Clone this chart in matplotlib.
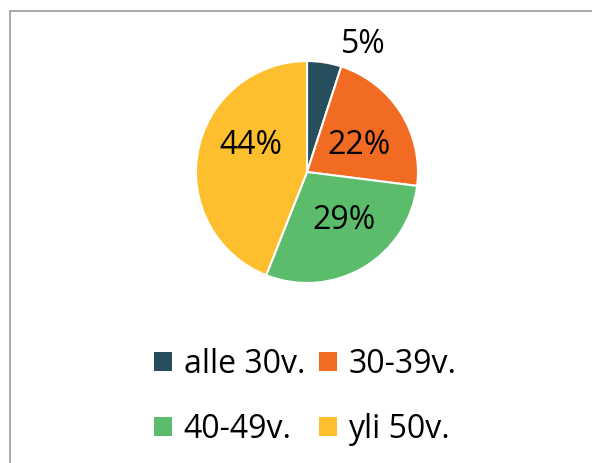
import matplotlib
matplotlib.use("Agg")
import matplotlib.pyplot as plt
from matplotlib.patches import Rectangle, Patch

labels = ["alle 30v.", "30-39v.", "40-49v.", "yli 50v."]
values = [5, 22, 29, 44]
colors = ["#264E5C", "#F26B22", "#5BBD6B", "#FDBF2D"]
pct_texts = ["5%", "22%", "29%", "44%"]

plt.rcParams['font.family'] = ['Open Sans', 'DejaVu Sans']

W, H = 592, 463
fig = plt.figure(figsize=(W / 100, H / 100), dpi=100)

# border
fig.patches.append(Rectangle((10 / W, -0.1), 2, (H - 11) / H + 0.1,
                             transform=fig.transFigure, fill=False,
                             edgecolor="#9A9A9A", linewidth=1.2))

cx, cy, R = 307, 172, 111
ax = fig.add_axes([(cx - R) / W, (H - cy - R) / H, 2 * R / W, 2 * R / H])
wedges, _ = ax.pie(values, colors=colors, startangle=90, counterclock=False,
                   radius=1, wedgeprops=dict(edgecolor="white", linewidth=1.5))
ax.set_xlim(-1, 1)
ax.set_ylim(-1, 1)
ax.axis("off")

# label positions (in units of radius)
label_pos = [(0.51, 1.15), (0.47, 0.24), (0.33, -0.44), (-0.51, 0.24)]
for t, (x, y) in zip(pct_texts, label_pos):
    ax.text(x, y, t, ha="center", va="center", fontsize=23, color="black",
            clip_on=False)

# legend filled row-wise: reorder for matplotlib's column-wise filling
order = [0, 2, 1, 3]
handles = [Patch(facecolor=colors[i], edgecolor="none") for i in order]
fig.legend(handles, [labels[i] for i in order], loc="center",
           bbox_to_anchor=(305.5 / W, 0.143),
           ncol=2, frameon=False, fontsize=23, handlelength=0.56,
           handleheight=0.56, handletextpad=0.35, columnspacing=0.45,
           labelspacing=1.0)

fig.savefig("out.png", dpi=100)
